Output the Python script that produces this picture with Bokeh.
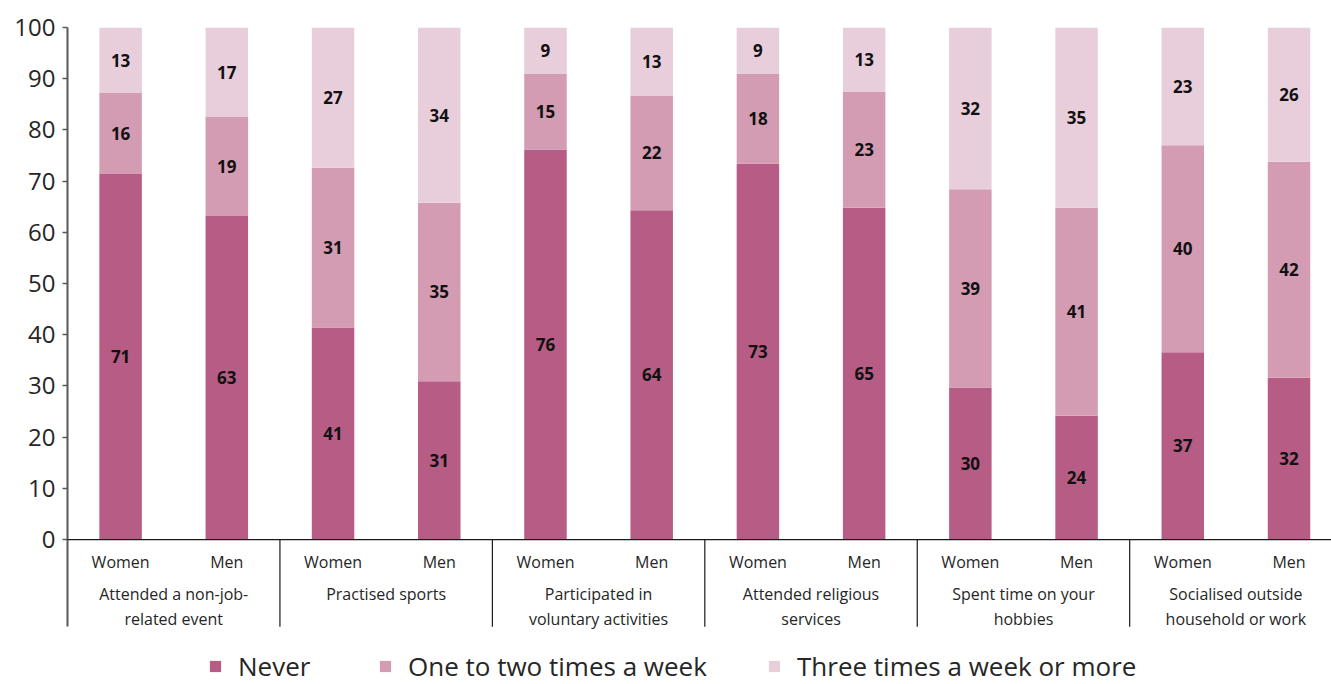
from bokeh.plotting import figure
from bokeh.models import Range1d, FixedTicker, Span, Legend, LegendItem, ColumnDataSource
from bokeh.core.properties import value
from bokeh.embed import file_html
from bokeh.resources import INLINE

groups = ["Attended a non-job-\nrelated event", "Practised sports",
          "Participated in\nvoluntary activities", "Attended religious\nservices",
          "Spent time on your\nhobbies", "Socialised outside\nhousehold or work"]
sexes = ["Women", "Men"]
series = ["Never", "One to two times a week", "Three times a week or more"]
never = [71.4, 63.2, 41.4, 30.9, 76.2, 64.3, 73.4, 64.8, 29.7, 24.2, 36.6, 31.6]
one_two = [15.9, 19.4, 31.2, 34.9, 14.8, 22.4, 17.6, 22.6, 38.7, 40.6, 40.4, 42.2]
three = [12.7, 17.4, 27.4, 34.2, 9.0, 13.3, 9.0, 12.6, 31.6, 35.2, 23.0, 26.2]
colors = ["#B75C85", "#D39CB3", "#E8CDDB"]
yticks = list(range(0, 101, 10))

FONT = "Open Sans"
TXT = "#262626"

n = len(groups) * len(sexes)
xs = [i + 0.5 for i in range(n)]
sex_labels = [sexes[i % 2] for i in range(n)]

src = ColumnDataSource(dict(x=xs, never=never, one=one_two, three=three))

p = figure(width=1331, height=684, x_range=Range1d(0, 11.9), y_range=Range1d(-28.3, 100),
           output_backend="svg", toolbar_location=None, x_axis_location=None,
           min_border_left=67, min_border_right=0, min_border_top=27, min_border_bottom=0)
p.grid.visible = False
p.outline_line_color = None

rs = p.vbar_stack(["never", "one", "three"], x="x", width=0.4, color=colors, line_color=None, source=src)

# value labels
lx, ly, lt = [], [], []
for i in range(n):
    base = 0
    for v in (never[i], one_two[i], three[i]):
        lx.append(xs[i]); ly.append(base + v / 2); lt.append("%d" % int(v + 0.5))
        base += v
p.text(x=lx, y=ly, text=lt, text_align="center", text_baseline="middle",
       text_font=value(FONT), text_font_size="17px", text_font_style="bold", text_color="#111111")

# y axis
ax = p.yaxis[0]
ax.ticker = FixedTicker(ticks=yticks)
ax.bounds = (-17, 100)
ax.minor_tick_line_color = None
ax.major_tick_in = 0
ax.major_tick_out = 5
ax.major_label_standoff = 7
ax.axis_line_color = "#595959"
ax.axis_line_width = 2
ax.major_tick_line_color = "#595959"
ax.major_tick_line_width = 1.5
ax.major_label_text_font = FONT
ax.major_label_text_font_size = "24px"
ax.major_label_text_color = TXT

# x baseline
p.add_layout(Span(location=0, dimension="width", line_color="#1a1a1a", line_width=1.2))

# group dividers
dx = [2 * (g + 1) for g in range(len(groups) - 1)]
p.segment(x0=dx, y0=[0] * len(dx), x1=dx, y1=[-17] * len(dx), line_color="#1a1a1a", line_width=1.2)

# sex labels
p.text(x=xs, y=[-4.3] * n, text=sex_labels, text_align="center", text_baseline="middle",
       text_font=value(FONT), text_font_size="16px", text_color=TXT)

# group labels
gx, gy, gt = [], [], []
for g, lab in enumerate(groups):
    for k, line in enumerate(lab.split("\n")):
        gx.append(2 * g + 1); gy.append(-10.7 - 4.9 * k); gt.append(line)
p.text(x=gx, y=gy, text=gt, text_align="center", text_baseline="middle",
       text_font=value(FONT), text_font_size="16px", text_color=TXT)

# legends
for r, name, loc in zip(rs, series, [(141, 0), (311, 0), (700, 0)]):
    leg = Legend(items=[LegendItem(label=name, renderers=[r])], location=loc,
                 orientation="horizontal", glyph_width=14, glyph_height=14, label_height=14,
                 label_standoff=16, padding=0, margin=0, border_line_color=None,
                 background_fill_alpha=0, label_text_font=FONT, label_text_font_size="26px",
                 label_text_color=TXT)
    p.add_layout(leg, "center")

open("out.html", "w").write(file_html(p, INLINE))
